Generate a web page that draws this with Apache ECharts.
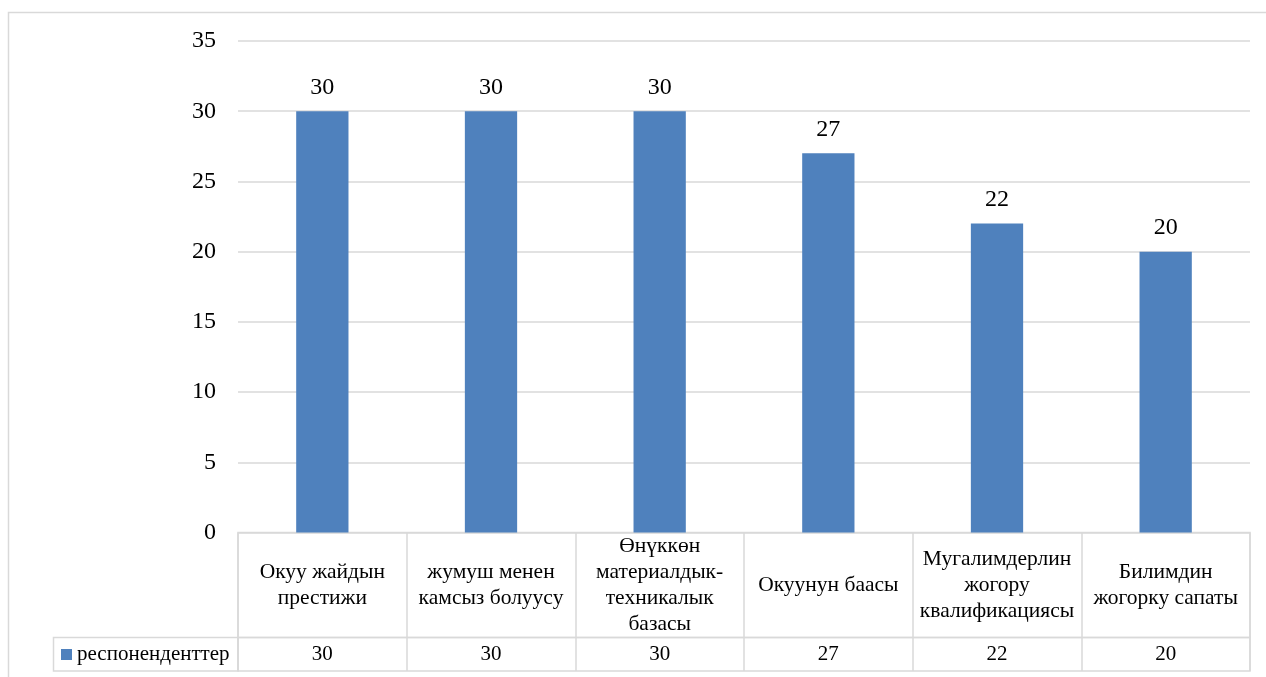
<!DOCTYPE html>
<html>
<head>
<meta charset="utf-8">
<script src="https://cdn.jsdelivr.net/npm/echarts@6/dist/echarts.min.js"></script>
<style>
  html, body { margin: 0; padding: 0; background: #fff; }
  #chart { width: 1266px; height: 677px; }
</style>
</head>
<body>
<div id="chart"></div>
<script>
// Categories (with the line breaks used in the table header cells)
const categories = [
  'Окуу жайдын\nпрестижи',
  'жумуш менен\nкамсыз болуусу',
  'Өнүккөн\nматериалдык-\nтехникалык\nбазасы',
  'Окуунун баасы',
  'Мугалимдерлин\nжогору\nквалификациясы',
  'Билимдин\nжогорку сапаты'
];
const seriesName = 'респоненденттер';
const values = [30, 30, 30, 27, 22, 20];
const yTicks = { min: 0, max: 35, interval: 5 };

const FONT = "'Liberation Serif', 'Times New Roman', serif";
const GRID_COLOR = '#d9d9d9';
const BAR_COLOR = '#4f81bd';

const chart = echarts.init(document.getElementById('chart'), null, { renderer: 'canvas' });

chart.setOption({
  animation: false,
  backgroundColor: '#ffffff',
  textStyle: { fontFamily: FONT, color: '#000' },
  legend: {
    data: [seriesName],
    left: 56,
    top: 639,
    icon: 'rect',
    itemWidth: 11,
    itemHeight: 11,
    itemGap: 0,
    selectedMode: false,
    textStyle: { fontFamily: FONT, fontSize: 21, color: '#000' }
  },
  grid: [
    // plot area
    { left: 238, right: 16, top: 41, height: 491.5 },
    // table header row (category names)
    { left: 238, right: 16, top: 532.5, height: 105, show: true, borderColor: GRID_COLOR, borderWidth: 1.5 },
    // table value row
    { left: 238, right: 16, top: 637.5, height: 33.5, show: true, borderColor: GRID_COLOR, borderWidth: 1.5 }
  ],
  xAxis: [
    {
      gridIndex: 0, type: 'category', data: categories,
      axisLine: { show: false }, axisTick: { show: false }, axisLabel: { show: false }
    },
    {
      gridIndex: 1, type: 'category', data: categories,
      position: 'bottom', offset: -52.5,
      axisLine: { show: false }, axisTick: { show: false },
      splitLine: { show: true, lineStyle: { color: GRID_COLOR, width: 1.5 } },
      axisLabel: {
        interval: 0, margin: 0, verticalAlign: 'middle', align: 'center',
        fontFamily: FONT, fontSize: 21.5, lineHeight: 26, color: '#000'
      }
    },
    {
      gridIndex: 2, type: 'category', data: categories,
      position: 'bottom', offset: -16.75,
      axisLine: { show: false }, axisTick: { show: false },
      splitLine: { show: true, lineStyle: { color: GRID_COLOR, width: 1.5 } },
      axisLabel: {
        interval: 0, margin: 0, verticalAlign: 'middle', align: 'center',
        fontFamily: FONT, fontSize: 21, color: '#000',
        formatter: (v, i) => String(values[i])
      }
    }
  ],
  yAxis: [
    {
      gridIndex: 0, type: 'value',
      min: yTicks.min, max: yTicks.max, interval: yTicks.interval,
      axisLine: { show: false }, axisTick: { show: false },
      axisLabel: { margin: 22, fontFamily: FONT, fontSize: 24, color: '#000' },
      splitLine: { lineStyle: { color: GRID_COLOR, width: 1.5 } }
    },
    { gridIndex: 1, type: 'value', show: false },
    { gridIndex: 2, type: 'value', show: false }
  ],
  series: [
    {
      name: seriesName,
      type: 'bar',
      xAxisIndex: 0, yAxisIndex: 0,
      data: values,
      barWidth: '31%',
      itemStyle: { color: BAR_COLOR },
      label: {
        show: true, position: 'top', distance: 12,
        fontFamily: FONT, fontSize: 24, color: '#000'
      }
    }
  ],
  graphic: [
    // outer chart frame
    {
      type: 'rect', silent: true, z: -1,
      shape: { x: 8.5, y: 12.5, width: 1300, height: 700 },
      style: { fill: null, stroke: GRID_COLOR, lineWidth: 1.5 }
    },
    // legend cell of the data table
    {
      type: 'rect', silent: true,
      shape: { x: 53.5, y: 637.5, width: 184.5, height: 33.5 },
      style: { fill: null, stroke: GRID_COLOR, lineWidth: 1.5 }
    }
  ]
});
</script>
</body>
</html>
